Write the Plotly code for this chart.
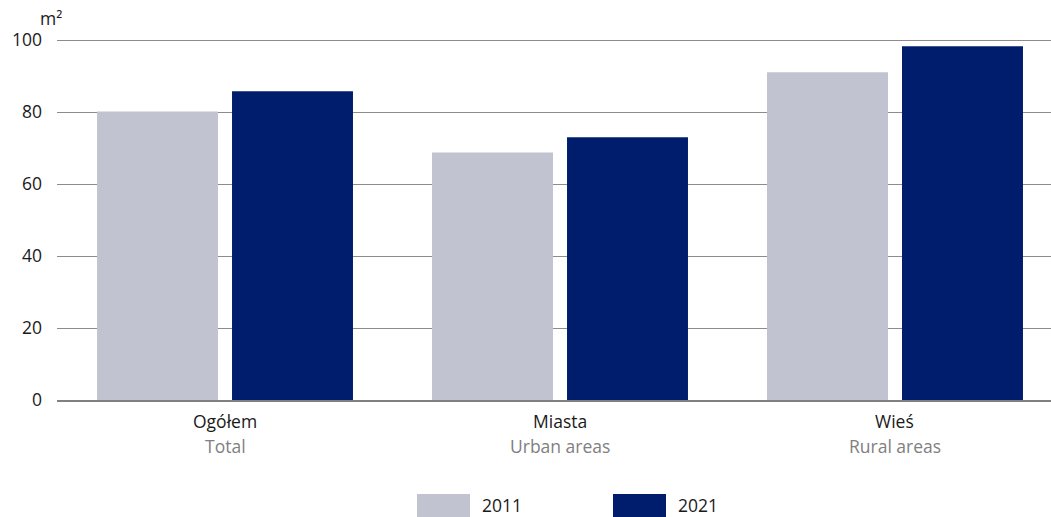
import plotly.graph_objects as go

# Average usable floor area of a dwelling, m²
categories_pl = ["Ogółem", "Miasta", "Wieś"]
categories_en = ["Total", "Urban areas", "Rural areas"]
years = ["2011", "2021"]
values_2011 = [80.2, 68.8, 91.1]
values_2021 = [85.8, 73.0, 98.3]
y_ticks = [0, 20, 40, 60, 80, 100]

colors = {"2011": "#c1c3d0", "2021": "#001c6c"}
FONT = "Open Sans"
FS = 17.5

W, H = 1051, 517
M_L, M_R, M_T, M_B = 57, 0, 33, 117
plot_w = W - M_L - M_R
plot_h = H - M_T - M_B


def px_x(p):
    return (p - M_L) / plot_w


def px_y(p):
    return (H - M_B - p) / plot_h


xpos = list(range(len(categories_pl)))

fig = go.Figure()
for year, vals in zip(years, [values_2011, values_2021]):
    fig.add_trace(go.Bar(
        x=xpos, y=vals, name=year,
        marker=dict(color=colors[year], line=dict(width=0)),
        showlegend=False,
        hoverinfo="y",
    ))

# category labels: Polish name above, English translation in grey below
for i, (pl, en) in enumerate(zip(categories_pl, categories_en)):
    fig.add_annotation(x=i, xref="x", y=px_y(421), yref="paper", text=pl,
                       showarrow=False, font=dict(family=FONT, size=FS, color="#1a1a1a"),
                       xanchor="center", yanchor="middle")
    fig.add_annotation(x=i, xref="x", y=px_y(446), yref="paper", text=en,
                       showarrow=False, font=dict(family=FONT, size=FS, color="#808080"),
                       xanchor="center", yanchor="middle")

# unit label
fig.add_annotation(x=px_x(51), xref="paper", y=px_y(18), yref="paper", text="m²",
                   showarrow=False, font=dict(family=FONT, size=FS, color="#1a1a1a"),
                   xanchor="center", yanchor="middle")

# custom legend with wide swatches
legend_items = [("2011", 417, 470), ("2021", 613, 666)]
for year, x0, x1 in legend_items:
    fig.add_shape(type="rect", xref="paper", yref="paper",
                  x0=px_x(x0), x1=px_x(x1), y0=px_y(517), y1=px_y(494),
                  fillcolor=colors[year], line=dict(width=0))
    fig.add_annotation(x=px_x(x1 + 10), xref="paper", y=px_y(505), yref="paper",
                       text=year, showarrow=False,
                       font=dict(family=FONT, size=FS, color="#1a1a1a"),
                       xanchor="left", yanchor="middle")

fig.update_layout(
    width=W, height=H,
    margin=dict(l=M_L, r=M_R, t=M_T, b=M_B),
    paper_bgcolor="white", plot_bgcolor="white",
    barmode="group", bargap=0.194, bargroupgap=0.104,
    font=dict(family=FONT, size=FS, color="#1a1a1a"),
    xaxis=dict(
        range=[-0.5015, 2.4657],
        tickvals=xpos, showticklabels=False,
        showgrid=False, zeroline=False,
        showline=True, linecolor="#808080", linewidth=2,
        fixedrange=True,
    ),
    yaxis=dict(
        range=[0, 102],
        tickvals=y_ticks,
        showgrid=True, gridcolor="#8c8c8c", gridwidth=1,
        zeroline=False, showline=False,
        ticks="", ticklabelstandoff=14,
        tickfont=dict(family=FONT, size=FS, color="#1a1a1a"),
        fixedrange=True,
    ),
)

fig.write_html("out.html")
